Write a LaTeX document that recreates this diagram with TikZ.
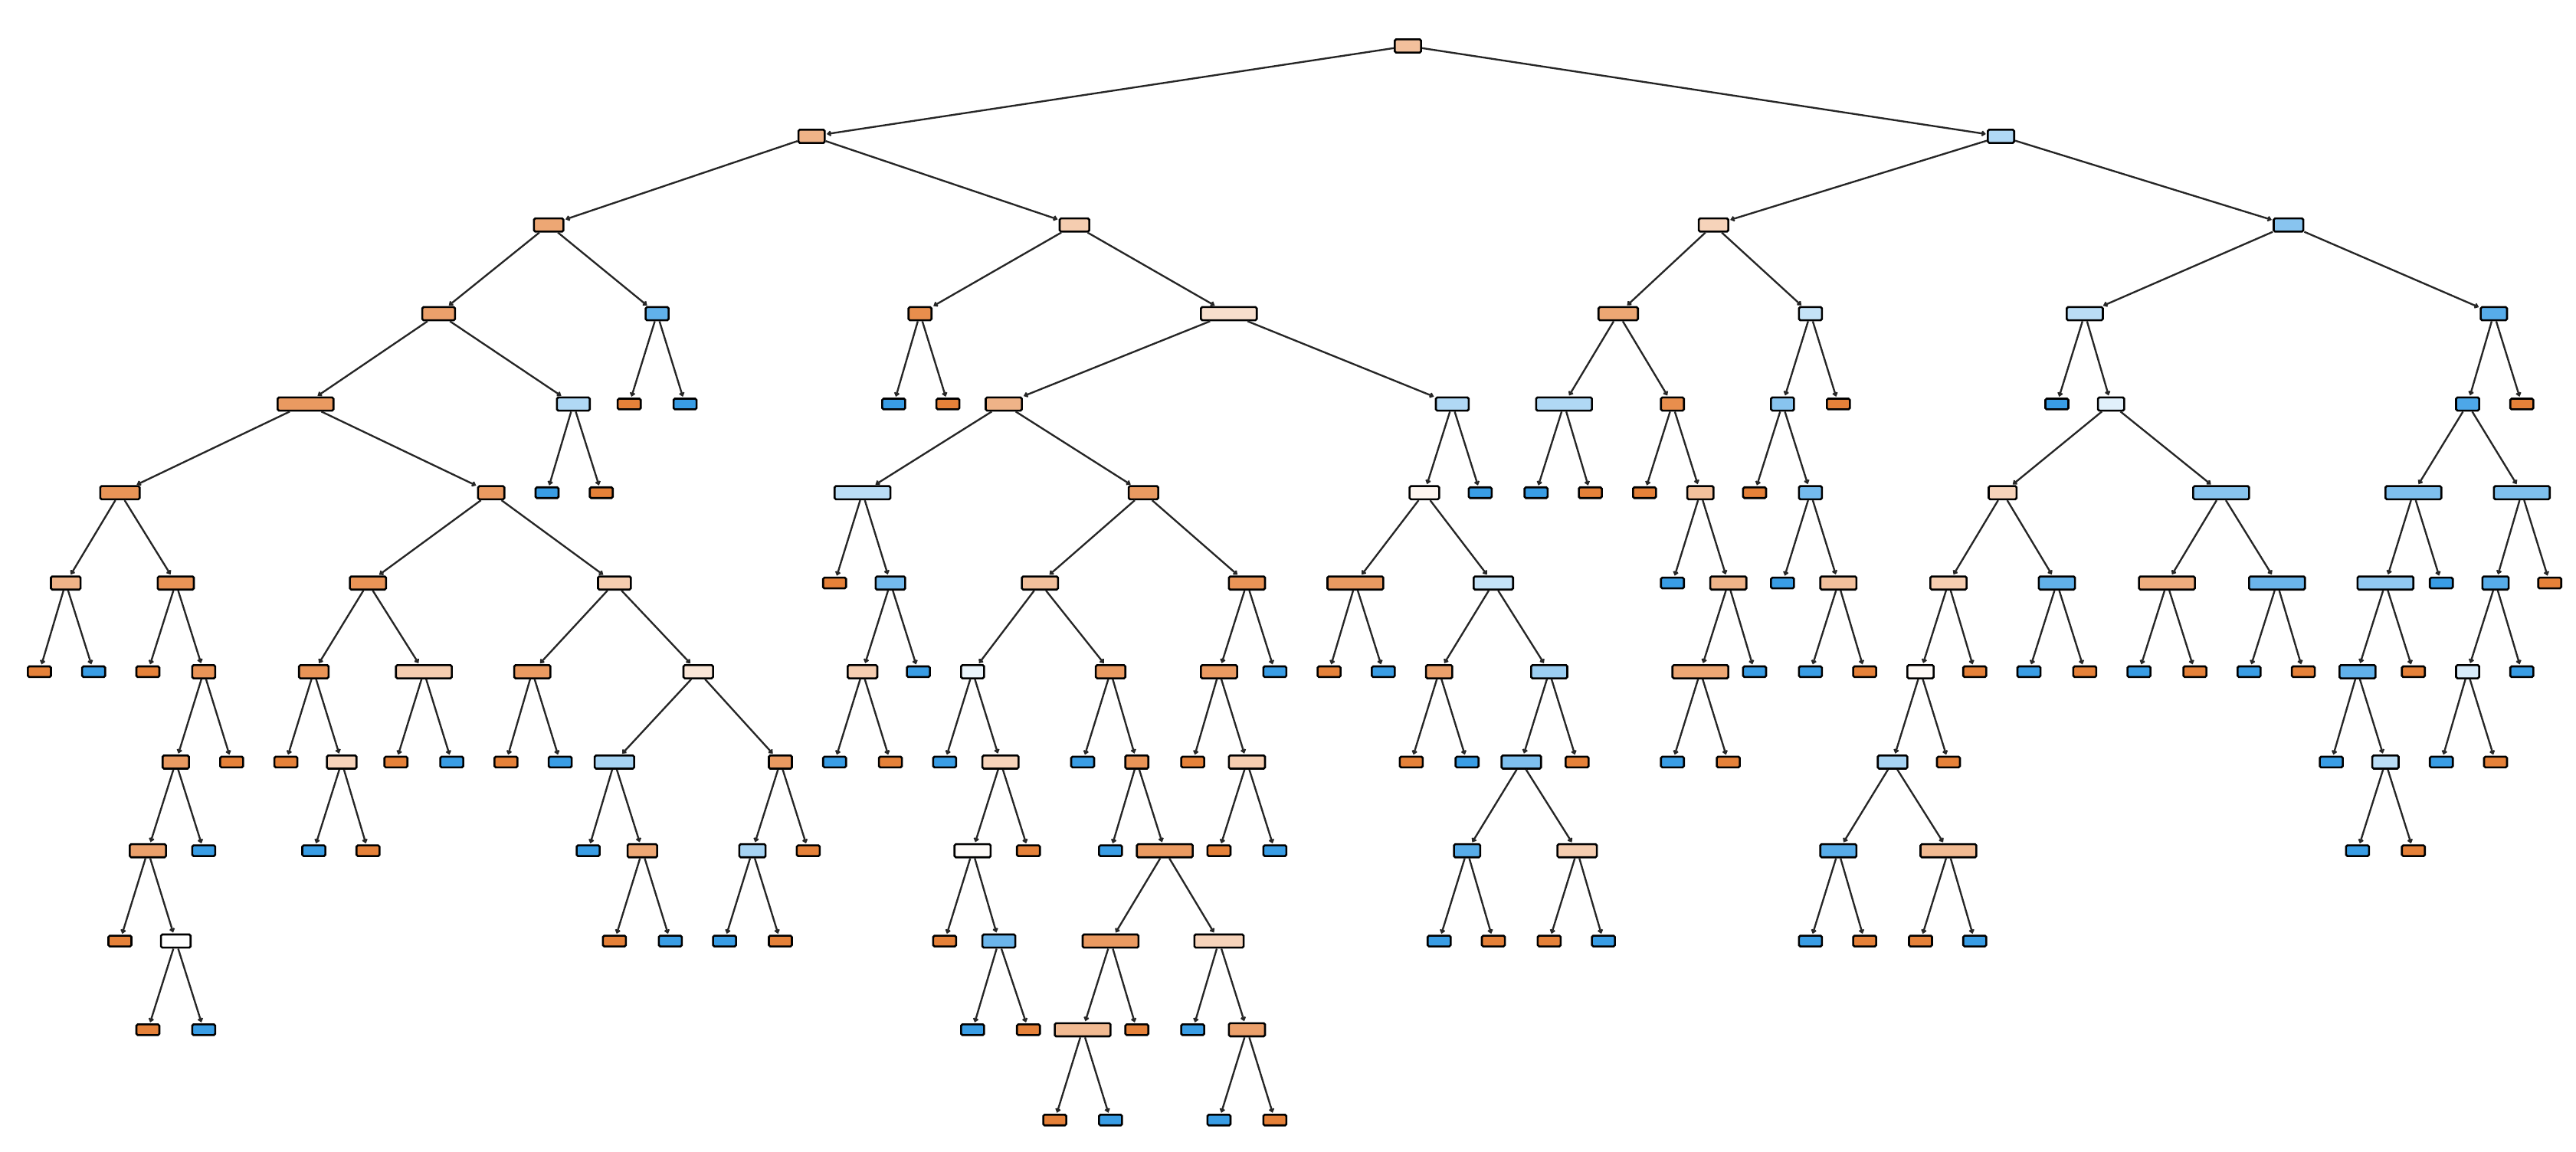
\documentclass[tikz,border=0pt]{standalone}
\usetikzlibrary{arrows.meta}
\definecolor{oc}{HTML}{E58139}
\definecolor{bc}{HTML}{399DE5}
\tikzset{
  inode/.style={draw=black, line width=1.2pt, rounded corners=0.8pt, minimum height=8pt, inner sep=0pt},
  lnode/.style={draw=black, line width=1.2pt, rounded corners=0.8pt, minimum height=6.5pt, minimum width=14pt, inner sep=0pt},
  edge/.style={line width=1.1pt, black!85, -{Straight Barb[length=1.6pt,width=2.6pt]}, shorten >=0.6pt}
}
\newcommand\IN[4]{\node[inode, minimum width=#3pt, fill=#4] (n#1x#2) at (#1,#2) {};}
\newcommand\LO[2]{\node[lnode, fill=oc] (n#1x#2) at (#1,#2) {};}
\newcommand\LB[2]{\node[lnode, fill=bc] (n#1x#2) at (#1,#2) {};}
\begin{document}
\begin{tikzpicture}[x=1pt,y=-1pt]
\useasboundingbox (0,0) rectangle (1568,701);
% level 28
\IN{857}{28}{16}{oc!50!white}
% level 83
\IN{494}{83}{16}{oc!60!white}
\IN{1218}{83}{16}{bc!40!white}
% level 137
\IN{334}{137}{18}{oc!70!white}
\IN{654}{137}{18}{oc!40!white}
\IN{1043}{137}{18}{oc!35!white}
\IN{1393}{137}{18}{bc!60!white}
% level 191
\IN{267}{191}{20}{oc!75!white}
\IN{400}{191}{14}{bc!80!white}
\IN{560}{191}{14}{oc!90!white}
\IN{748}{191}{34}{oc!25!white}
\IN{985}{191}{24}{oc!70!white}
\IN{1102}{191}{14}{bc!30!white}
\IN{1269}{191}{22}{bc!35!white}
\IN{1518}{191}{16}{bc!85!white}
% level 246
\IN{186}{246}{34}{oc!80!white}
\IN{349}{246}{20}{bc!40!white}
\LO{383}{246}
\LB{417}{246}
\LB{544}{246}
\LO{577}{246}
\IN{611}{246}{22}{oc!60!white}
\IN{884}{246}{20}{bc!40!white}
\IN{952}{246}{34}{bc!40!white}
\IN{1018}{246}{14}{oc!90!white}
\IN{1085}{246}{14}{bc!60!white}
\LO{1119}{246}
\LB{1252}{246}
\IN{1285}{246}{16}{bc!15!white}
\IN{1502}{246}{14}{bc!90!white}
\LO{1535}{246}
% level 300
\IN{73}{300}{24}{oc!85!white}
\IN{299}{300}{16}{oc!80!white}
\LB{333}{300}
\LO{366}{300}
\IN{525}{300}{34}{bc!35!white}
\IN{696}{300}{18}{oc!80!white}
\IN{867}{300}{18}{oc!8!white}
\LB{901}{300}
\LB{935}{300}
\LO{968}{300}
\LO{1001}{300}
\IN{1035}{300}{16}{oc!50!white}
\LO{1068}{300}
\IN{1102}{300}{14}{bc!70!white}
\IN{1219}{300}{17}{oc!35!white}
\IN{1352}{300}{34}{bc!60!white}
\IN{1469}{300}{34}{bc!65!white}
\IN{1535}{300}{34}{bc!65!white}
% level 355
\IN{40}{355}{18}{oc!60!white}
\IN{107}{355}{22}{oc!85!white}
\IN{224}{355}{22}{oc!85!white}
\IN{374}{355}{20}{oc!40!white}
\LO{508}{355}
\IN{542}{355}{18}{bc!70!white}
\IN{633}{355}{22}{oc!50!white}
\IN{759}{355}{22}{oc!85!white}
\IN{825}{355}{34}{oc!80!white}
\IN{909}{355}{24}{bc!30!white}
\LB{1018}{355}
\IN{1052}{355}{22}{oc!60!white}
\LB{1085}{355}
\IN{1119}{355}{22}{oc!50!white}
\IN{1186}{355}{22}{oc!40!white}
\IN{1252}{355}{22}{bc!80!white}
\IN{1319}{355}{34}{oc!65!white}
\IN{1386}{355}{34}{bc!75!white}
\IN{1452}{355}{34}{bc!55!white}
\LB{1486}{355}
\IN{1519}{355}{16}{bc!85!white}
\LO{1552}{355}
% level 409
\LO{24}{409}
\LB{57}{409}
\LO{90}{409}
\IN{124}{409}{14}{oc!85!white}
\IN{191}{409}{18}{oc!85!white}
\IN{258}{409}{34}{oc!40!white}
\IN{324}{409}{22}{oc!80!white}
\IN{425}{409}{18}{oc!20!white}
\IN{525}{409}{18}{oc!40!white}
\LB{559}{409}
\IN{592}{409}{14}{bc!10!white}
\IN{676}{409}{18}{oc!80!white}
\IN{742}{409}{22}{oc!80!white}
\LB{776}{409}
\LO{809}{409}
\LB{842}{409}
\IN{876}{409}{16}{oc!75!white}
\IN{943}{409}{22}{bc!50!white}
\IN{1035}{409}{34}{oc!70!white}
\LB{1068}{409}
\LB{1102}{409}
\LO{1135}{409}
\IN{1169}{409}{16}{oc!4!white}
\LO{1202}{409}
\LB{1235}{409}
\LO{1269}{409}
\LB{1302}{409}
\LO{1336}{409}
\LB{1369}{409}
\LO{1402}{409}
\IN{1435}{409}{22}{bc!80!white}
\LO{1469}{409}
\IN{1502}{409}{14}{bc!20!white}
\LB{1535}{409}
% level 464
\IN{107}{464}{16}{oc!80!white}
\LO{141}{464}
\LO{174}{464}
\IN{208}{464}{18}{oc!35!white}
\LO{241}{464}
\LB{275}{464}
\LO{308}{464}
\LB{341}{464}
\IN{374}{464}{24}{bc!45!white}
\IN{475}{464}{14}{oc!80!white}
\LB{508}{464}
\LO{542}{464}
\LB{575}{464}
\IN{609}{464}{22}{oc!35!white}
\LB{659}{464}
\IN{692}{464}{14}{oc!85!white}
\LO{726}{464}
\IN{759}{464}{22}{oc!40!white}
\LO{859}{464}
\LB{893}{464}
\IN{926}{464}{24}{bc!65!white}
\LO{960}{464}
\LB{1018}{464}
\LO{1052}{464}
\IN{1152}{464}{18}{bc!45!white}
\LO{1186}{464}
\LB{1419}{464}
\IN{1452}{464}{16}{bc!35!white}
\LB{1486}{464}
\LO{1519}{464}
% level 518
\IN{90}{518}{22}{oc!75!white}
\LB{124}{518}
\LB{191}{518}
\LO{224}{518}
\LB{358}{518}
\IN{391}{518}{18}{oc!70!white}
\IN{458}{518}{16}{bc!45!white}
\LO{492}{518}
\IN{592}{518}{22}{oc!3!white}
\LO{626}{518}
\LB{676}{518}
\IN{709}{518}{34}{oc!80!white}
\LO{742}{518}
\LB{776}{518}
\IN{893}{518}{16}{bc!85!white}
\IN{960}{518}{24}{oc!40!white}
\IN{1119}{518}{22}{bc!85!white}
\IN{1186}{518}{34}{oc!55!white}
\LB{1435}{518}
\LO{1469}{518}
% level 573
\LO{73}{573}
\IN{107}{573}{18}{white}
\LO{374}{573}
\LB{408}{573}
\LB{441}{573}
\LO{475}{573}
\LO{575}{573}
\IN{608}{573}{20}{bc!75!white}
\IN{676}{573}{34}{oc!80!white}
\IN{742}{573}{30}{oc!35!white}
\LB{876}{573}
\LO{909}{573}
\LO{943}{573}
\LB{976}{573}
\LB{1102}{573}
\LO{1135}{573}
\LO{1169}{573}
\LB{1202}{573}
% level 627
\LO{90}{627}
\LB{124}{627}
\LB{592}{627}
\LO{626}{627}
\IN{659}{627}{34}{oc!55!white}
\LO{692}{627}
\LB{726}{627}
\IN{759}{627}{22}{oc!75!white}
% level 682
\LO{642}{682}
\LB{676}{682}
\LB{742}{682}
\LO{776}{682}
% edges
\foreach \p/\c in {
857x28/494x83, 857x28/1218x83,
494x83/334x137, 494x83/654x137,
1218x83/1043x137, 1218x83/1393x137,
334x137/267x191, 334x137/400x191,
654x137/560x191, 654x137/748x191,
1043x137/985x191, 1043x137/1102x191,
1393x137/1269x191, 1393x137/1518x191,
267x191/186x246, 267x191/349x246,
400x191/383x246, 400x191/417x246,
560x191/544x246, 560x191/577x246,
748x191/611x246, 748x191/884x246,
985x191/952x246, 985x191/1018x246,
1102x191/1085x246, 1102x191/1119x246,
1269x191/1252x246, 1269x191/1285x246,
1518x191/1502x246, 1518x191/1535x246,
186x246/73x300, 186x246/299x300,
349x246/333x300, 349x246/366x300,
611x246/525x300, 611x246/696x300,
884x246/867x300, 884x246/901x300,
952x246/935x300, 952x246/968x300,
1018x246/1001x300, 1018x246/1035x300,
1085x246/1068x300, 1085x246/1102x300,
1285x246/1219x300, 1285x246/1352x300,
1502x246/1469x300, 1502x246/1535x300,
73x300/40x355, 73x300/107x355,
299x300/224x355, 299x300/374x355,
525x300/508x355, 525x300/542x355,
696x300/633x355, 696x300/759x355,
867x300/825x355, 867x300/909x355,
1035x300/1018x355, 1035x300/1052x355,
1102x300/1085x355, 1102x300/1119x355,
1219x300/1186x355, 1219x300/1252x355,
1352x300/1319x355, 1352x300/1386x355,
1469x300/1452x355, 1469x300/1486x355,
1535x300/1519x355, 1535x300/1552x355,
40x355/24x409, 40x355/57x409,
107x355/90x409, 107x355/124x409,
224x355/191x409, 224x355/258x409,
374x355/324x409, 374x355/425x409,
542x355/525x409, 542x355/559x409,
633x355/592x409, 633x355/676x409,
759x355/742x409, 759x355/776x409,
825x355/809x409, 825x355/842x409,
909x355/876x409, 909x355/943x409,
1052x355/1035x409, 1052x355/1068x409,
1119x355/1102x409, 1119x355/1135x409,
1186x355/1169x409, 1186x355/1202x409,
1252x355/1235x409, 1252x355/1269x409,
1319x355/1302x409, 1319x355/1336x409,
1386x355/1369x409, 1386x355/1402x409,
1452x355/1435x409, 1452x355/1469x409,
1519x355/1502x409, 1519x355/1535x409,
124x409/107x464, 124x409/141x464,
191x409/174x464, 191x409/208x464,
258x409/241x464, 258x409/275x464,
324x409/308x464, 324x409/341x464,
425x409/374x464, 425x409/475x464,
525x409/508x464, 525x409/542x464,
592x409/575x464, 592x409/609x464,
676x409/659x464, 676x409/692x464,
742x409/726x464, 742x409/759x464,
876x409/859x464, 876x409/893x464,
943x409/926x464, 943x409/960x464,
1035x409/1018x464, 1035x409/1052x464,
1169x409/1152x464, 1169x409/1186x464,
1435x409/1419x464, 1435x409/1452x464,
1502x409/1486x464, 1502x409/1519x464,
107x464/90x518, 107x464/124x518,
208x464/191x518, 208x464/224x518,
374x464/358x518, 374x464/391x518,
475x464/458x518, 475x464/492x518,
609x464/592x518, 609x464/626x518,
692x464/676x518, 692x464/709x518,
759x464/742x518, 759x464/776x518,
926x464/893x518, 926x464/960x518,
1152x464/1119x518, 1152x464/1186x518,
1452x464/1435x518, 1452x464/1469x518,
90x518/73x573, 90x518/107x573,
391x518/374x573, 391x518/408x573,
458x518/441x573, 458x518/475x573,
592x518/575x573, 592x518/608x573,
709x518/676x573, 709x518/742x573,
893x518/876x573, 893x518/909x573,
960x518/943x573, 960x518/976x573,
1119x518/1102x573, 1119x518/1135x573,
1186x518/1169x573, 1186x518/1202x573,
107x573/90x627, 107x573/124x627,
608x573/592x627, 608x573/626x627,
676x573/659x627, 676x573/692x627,
742x573/726x627, 742x573/759x627,
659x627/642x682, 659x627/676x682,
759x627/742x682, 759x627/776x682}
  \draw[edge] (n\p) -- (n\c);
\end{tikzpicture}
\end{document}
